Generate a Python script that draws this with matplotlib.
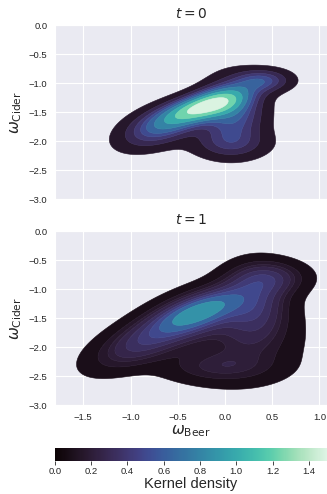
import numpy as np
import matplotlib
matplotlib.use("Agg")
import matplotlib.pyplot as plt
import seaborn as sns
from matplotlib.colors import Normalize
from matplotlib.cm import ScalarMappable

sns.set_style("darkgrid")
plt.rcParams['font.family'] = ['Liberation Sans', 'DejaVu Sans']

# Gaussian mixture components (t = 0)
t0_mu_x = [-0.22, -0.68, 0.08, 0.05, 0.40]
t0_mu_y = [-1.40, -1.75, -1.50, -2.05, -0.95]
t0_sd_a = [0.32, 0.32, 0.22, 0.28, 0.20]
t0_sd_b = [0.14, 0.19, 0.36, 0.18, 0.13]
t0_ang = [30, 38, 0, 0, 0]
t0_w = [0.35, 0.20, 0.28, 0.08, 0.07]

# t = 1
t1_mu_x = [-0.28, -0.28, -0.88, 0.32, 0.15, 0.48, -0.10]
t1_mu_y = [-1.40, -1.40, -1.92, -1.30, -1.95, -0.80, -2.35]
t1_sd_a = [0.25, 0.42, 0.43, 0.24, 0.42, 0.26, 0.40]
t1_sd_b = [0.10, 0.21, 0.21, 0.42, 0.45, 0.19, 0.18]
t1_ang = [35, 36, 40, 0, 0, 0, 0]
t1_w = [0.06, 0.28, 0.16, 0.18, 0.16, 0.07, 0.06]

titles = [r"$t = 0$", r"$t = 1$"]
x_ticks = [-1.5, -1.0, -0.5, 0.0, 0.5, 1.0]
y_ticks = [0.0, -0.5, -1.0, -1.5, -2.0, -2.5, -3.0]
cbar_ticks = [0.0, 0.2, 0.4, 0.6, 0.8, 1.0, 1.2, 1.4]

gx = np.linspace(-2.6, 1.9, 400)
gy = np.linspace(-3.8, 0.6, 400)
XX, YY = np.meshgrid(gx, gy)


def density(mx, my, sa, sb, ang, w):
    z = np.zeros_like(XX)
    wt = np.array(w) / np.sum(w)
    for a, b, s1, s2, th, ww in zip(mx, my, sa, sb, ang, wt):
        t = np.deg2rad(th)
        dx, dy = XX - a, YY - b
        u = dx * np.cos(t) + dy * np.sin(t)
        v = -dx * np.sin(t) + dy * np.cos(t)
        z += ww * np.exp(-0.5 * ((u / s1) ** 2 + (v / s2) ** 2)) / (2 * np.pi * s1 * s2)
    return z


def iso_levels(z, props):
    vals = np.ravel(z)
    sv = np.sort(vals)[::-1]
    nv = np.cumsum(sv) / vals.sum()
    idx = np.searchsorted(nv, 1 - np.asarray(props))
    return np.take(sv, idx, mode="clip")


cmap = sns.color_palette("mako", as_cmap=True)
norm = Normalize(0, 1.5)

fig = plt.figure(figsize=(3.27, 4.94), dpi=100)
ax0 = fig.add_axes([0.168, 0.597, 0.832, 0.352])
ax1 = fig.add_axes([0.168, 0.180, 0.832, 0.352])
params = [(t0_mu_x, t0_mu_y, t0_sd_a, t0_sd_b, t0_ang, t0_w),
          (t1_mu_x, t1_mu_y, t1_sd_a, t1_sd_b, t1_ang, t1_w)]
for ax, p, title in zip([ax0, ax1], params, titles):
    z = density(*p)
    lv = iso_levels(z, np.linspace(0.05, 1, 10))
    lv = np.unique(lv)
    cs = ax.contourf(XX, YY, z, levels=lv, cmap=cmap, norm=norm, antialiased=True)
    cs.set_edgecolor('face')
    cs.set_linewidth(0.4)
    ax.set_xlim(-1.8, 1.08)
    ax.set_ylim(-3.0, 0.0)
    ax.set_xticks(x_ticks)
    ax.set_yticks(y_ticks)
    ax.tick_params(labelsize=6.8, colors='.15', pad=2)
    ax.set_title(title, fontsize=10, pad=5)
    ax.set_ylabel(r"$\omega_{\mathrm{Cider}}$", fontsize=11, labelpad=3)
ax0.set_xticklabels([])
ax1.set_xlabel(r"$\omega_{\mathrm{Beer}}$", fontsize=11, labelpad=1)

cax = fig.add_axes([0.168, 0.0668, 0.832, 0.0263])
cb = fig.colorbar(ScalarMappable(norm=norm, cmap=cmap), cax=cax, orientation='horizontal')
cb.outline.set_visible(False)
cb.set_ticks(cbar_ticks)
cb.ax.tick_params(labelsize=6.8, colors='.15', length=3, width=0.6, pad=1)
cb.set_label("Kernel density", fontsize=10.5, labelpad=1)

fig.savefig("out.png", dpi=100)
